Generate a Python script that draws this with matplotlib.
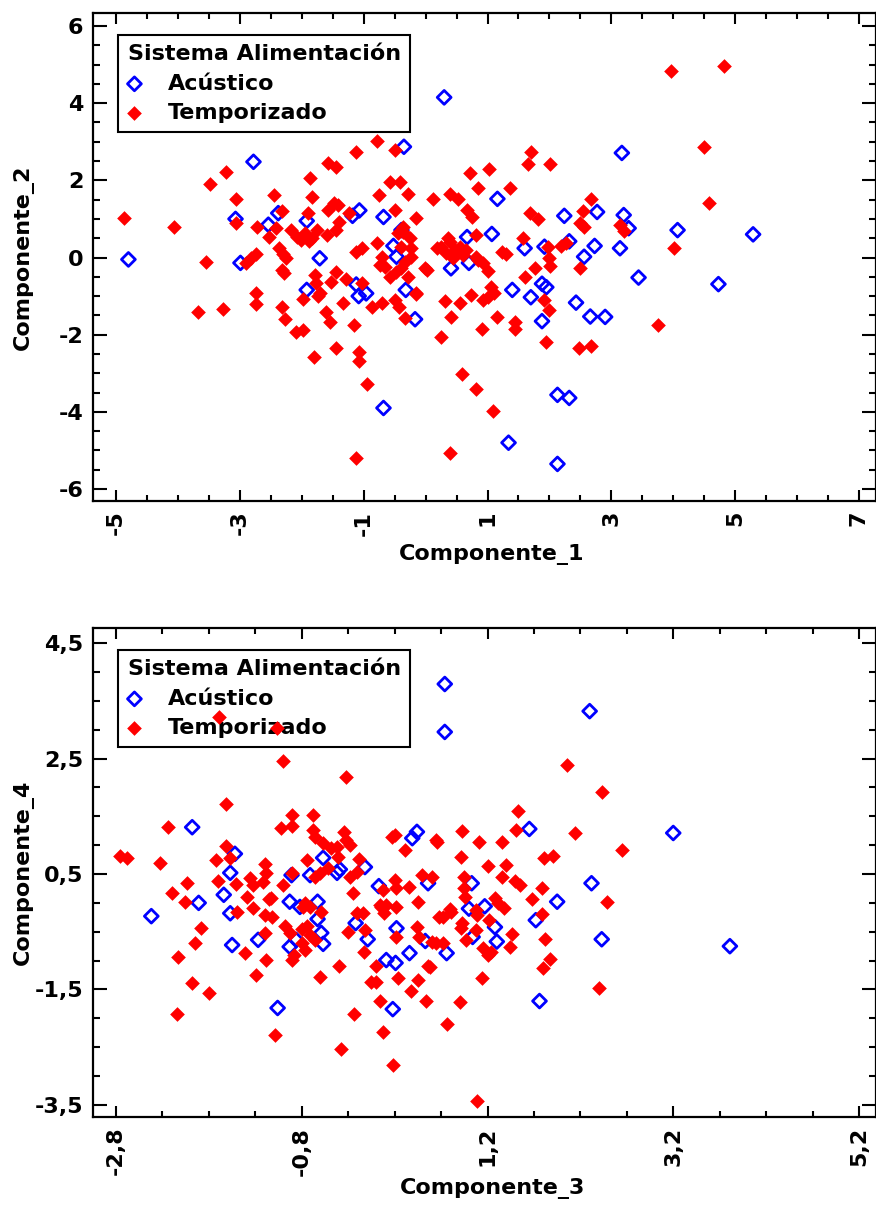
import numpy as np
import matplotlib
matplotlib.use("Agg")
import matplotlib.pyplot as plt
from matplotlib.ticker import FixedLocator, FuncFormatter

# Componente_1 vs Componente_2
acu_12 = [(-4.8, -0.05), (-3.07, 1.0), (-2.78, 2.48), (-2.99, -0.14), (-2.54, 0.85), (-2.38, 1.15),
          (-1.92, 0.95), (-1.71, -0.02), (-1.92, -0.84), (-1.18, 1.08), (-1.07, 1.22), (-0.68, 1.05),
          (-1.12, -0.7), (-1.08, -1.0), (-0.96, -0.93), (-0.52, 0.3), (-0.47, 0.02), (-0.39, 0.71),
          (-0.35, 2.87), (-0.32, -0.84), (-0.17, -1.6), (-0.68, -3.9), (0.3, 4.15), (3.17, 2.71),
          (1.16, 1.52), (2.24, 1.08), (2.77, 1.18), (3.2, 1.1), (3.28, 0.76), (4.07, 0.71), (5.29, 0.6),
          (0.67, 0.53), (1.07, 0.61), (1.6, 0.24), (1.92, 0.28), (2.32, 0.42), (2.73, 0.3), (2.56, 0.02),
          (3.14, 0.24), (0.41, -0.28), (0.7, -0.14), (3.44, -0.52), (4.73, -0.69), (1.88, -0.68),
          (1.95, -0.77), (1.4, -0.84), (1.7, -1.03), (1.88, -1.65), (2.43, -1.17), (2.66, -1.53),
          (2.9, -1.54), (2.13, -3.56), (2.32, -3.64), (1.34, -4.8), (2.13, -5.35)]
tem_12 = [(-4.87, 1.02), (-4.07, 0.8), (-3.54, -0.11), (-3.48, 1.9), (-3.23, 2.21), (-3.07, 1.52),
          (-3.07, 0.9), (-3.68, -1.41), (-3.27, -1.33), (-2.9, -0.14), (-2.82, -0.02), (-2.74, 0.1),
          (-2.72, 0.8), (-2.53, 0.53), (-2.45, 1.62), (-2.32, 1.2), (-2.42, 0.77), (-2.37, 0.24),
          (-2.3, 0.1), (-2.26, -0.02), (-2.32, -0.32), (-2.28, -0.4), (-2.74, -0.92), (-2.74, -1.2),
          (-2.32, -1.28), (-2.27, -1.59), (-2.18, 0.71), (-2.08, 0.53), (-2.02, 0.45), (-1.95, 0.64),
          (-1.89, 0.42), (-1.84, 0.5), (-1.76, 0.72), (-1.87, 2.06), (-1.84, 1.57), (-1.9, 1.15),
          (-2.09, -1.93), (-1.98, -1.87), (-1.98, -1.07), (-1.74, -0.99), (-1.7, -0.92), (-1.61, -1.41),
          (-1.55, -1.67), (-1.81, -2.58), (-1.79, -0.45), (-1.77, -0.67), (-1.6, 0.58),
          (-1.57, 2.46), (-1.45, 2.35), (-1.58, 1.23), (-1.48, 1.41), (-1.42, 1.35), (-1.45, 0.71),
          (-1.4, 0.92), (-1.24, 1.15), (-1.12, 2.74), (-0.79, 3.02), (-0.49, 2.79), (-0.76, 1.62),
          (-0.57, 1.95), (-0.41, 1.95), (-0.49, 1.23), (-0.28, 1.65), (-0.15, 1.02), (0.12, 1.52),
          (-0.44, 0.64), (-0.36, 0.8), (-0.25, 0.5), (-1.13, 0.15), (-1.03, 0.24), (-0.79, 0.37),
          (-0.71, 0.02), (-0.73, -0.19), (-0.65, -0.25), (-0.57, -0.5), (-0.47, -0.38), (-0.39, -0.27),
          (-0.33, -0.12), (-0.23, 0.24), (-0.23, 0.02), (-0.28, -0.5), (-0.15, -0.92), (-0.01, -0.27),
          (0.18, 0.24), (-1.52, -0.63), (-1.44, -0.37), (-1.29, -0.56), (-1.03, -0.67), (-1.44, -2.35),
          (-1.34, -1.18), (-1.16, -1.75), (-1.08, -2.45), (-1.08, -2.68), (-0.95, -3.27), (-1.13, -5.19),
          (-0.87, -1.28), (-0.71, -1.18), (-0.43, -1.28), (-0.33, -1.56), (-0.15, -0.94), (-0.49, -1.1),
          (-0.36, 0.66), (-0.39, 0.28), (0.02, -0.32),
          (0.25, 0.28), (0.33, 0.12), (0.39, 0.4), (0.47, 0.2), (0.55, 0.28), (0.65, 0.2), (0.44, -0.02),
          (0.6, 0.07), (0.36, 0.5), (0.81, 0.02), (0.92, -0.14), (1.0, -0.35), (1.05, -0.76),
          (1.11, -0.92), (0.73, -0.97), (0.92, -1.1), (0.31, -1.12), (0.55, -1.18), (0.41, -1.54),
          (0.25, -2.05), (0.91, -1.85), (0.59, -3.03), (1.16, -1.54), (1.24, 0.15), (1.3, 0.08),
          (1.57, 0.5), (1.77, -0.27), (1.6, -0.5), (1.97, 0.28), (2.18, 0.3), (2.26, 0.38), (1.99, -0.02),
          (2.01, -0.22), (1.44, -1.67), (1.44, -1.85), (1.94, -2.19), (2.48, -2.34), (2.67, -2.29),
          (2.49, -0.27), (1.92, -1.1), (1.99, -1.36), (3.76, -1.75), (0.81, 0.58), (0.81, -3.4),
          (1.09, -3.97), (0.39, -5.06), (3.96, 4.83), (4.82, 4.96), (4.49, 2.87), (4.57, 1.41),
          (4.02, 0.24), (1.71, 2.74), (1.65, 2.43), (2.01, 2.43), (0.71, 2.2), (1.02, 2.3), (0.39, 1.65),
          (0.52, 1.52), (0.84, 1.8), (1.37, 1.8), (2.67, 1.52), (0.67, 1.23), (0.75, 1.05), (1.68, 1.15),
          (1.81, 0.99), (2.54, 1.2), (2.49, 0.9), (2.56, 0.79), (3.14, 0.84), (3.2, 0.69), (0.84, -0.06),
          (1.0, -1.02)]

# Componente_3 vs Componente_4
acu_34 = [(-1.98, 1.31), (-1.52, 0.85), (-1.57, 0.52), (-1.64, 0.14), (-1.91, 0.0), (-0.91, 0.48),
          (-0.71, 0.48), (-0.57, 0.78), (-0.42, 0.52), (-0.39, 0.58), (-0.12, 0.62), (0.03, 0.29),
          (0.39, 1.12), (0.44, 1.23), (0.56, 0.34), (-0.93, 0.02), (-0.63, 0.02), (0.74, 3.79),
          (0.74, 2.96), (2.3, 3.32), (1.65, 1.28), (3.2, 1.21), (2.32, 0.34), (1.95, 0.02), (1.03, 0.34),
          (1.17, -0.06), (-2.42, -0.23), (-1.57, -0.18), (-1.55, -0.73), (-1.27, -0.64), (-0.82, -0.07),
          (-0.93, -0.76), (-0.86, -0.64), (-0.63, -0.28), (-0.59, -0.52), (-0.57, -0.71), (-0.22, -0.35),
          (-0.09, -0.63), (0.11, -0.99), (0.21, -1.04), (0.22, -0.44), (0.36, -0.87), (0.53, -0.66),
          (-1.06, -1.82), (0.18, -1.84), (1.0, -0.1), (1.28, -0.42), (1.3, -0.67), (1.04, -0.59),
          (1.72, -0.3), (2.43, -0.63), (0.76, -0.87), (3.81, -0.75), (1.76, -1.7)]
tem_34 = [(-1.69, 3.22), (-1.07, 3.03), (-1.0, 2.46), (-0.32, 2.18), (-1.62, 1.71), (-2.24, 1.31),
          (-2.76, 0.81), (-2.68, 0.78), (-2.33, 0.69), (-1.72, 0.74), (-1.62, 0.98), (-1.57, 0.78),
          (-1.7, 0.38), (-1.51, 0.33), (-2.04, 0.34), (-2.2, 0.17), (-2.06, 0.02), (-1.39, 0.1),
          (-1.36, 0.43), (-1.33, 0.31), (-1.2, 0.67), (-1.18, 0.52), (-1.22, 0.36), (-1.13, 0.08),
          (-1.0, 0.31), (-1.02, 1.29), (-0.9, 1.33), (-0.9, 1.52), (-0.68, 1.52), (-0.68, 1.26),
          (-0.66, 1.14), (-0.57, 1.04), (-0.49, 0.95), (-0.9, 0.52), (-0.74, 0.74), (-0.66, 0.45),
          (-0.6, 0.52), (-0.52, 0.6), (-0.41, 0.8), (-0.42, 0.97), (-0.34, 1.23), (-0.32, 1.09),
          (-0.28, 1.0), (-0.18, 0.76), (-0.28, 0.45), (-0.21, 0.54), (-0.25, 0.17), (0.17, 1.14),
          (0.2, 1.17), (0.31, 0.92), (0.07, 0.22), (0.2, 0.4), (0.22, 0.26), (0.36, 0.27), (0.45, 0.02),
          (0.5, 0.48), (0.6, 0.45), (0.65, 1.09), (0.04, -0.04), (0.11, -0.04), (-0.77, 0.0),
          (-0.71, -0.08), (2.06, 2.39), (2.43, 1.92), (1.53, 1.59), (1.51, 1.26), (0.93, 1.24),
          (0.66, 1.05), (1.11, 1.05), (1.36, 1.05), (2.14, 1.21), (2.65, 0.92), (0.92, 0.8), (1.2, 0.64),
          (1.4, 0.66), (1.81, 0.78), (1.9, 0.81), (0.95, 0.45), (0.95, 0.26), (0.96, 0.1), (1.36, 0.45),
          (1.5, 0.38), (1.55, 0.31), (1.79, 0.26), (1.68, 0.07), (2.49, 0.02), (0.8, -0.1),
          (-2.13, -0.93), (-1.88, -0.44), (-1.95, -0.7), (-1.98, -1.39), (-1.8, -1.56), (-2.14, -1.92),
          (-1.5, -0.16), (-1.41, -0.87), (-1.33, -0.09), (-1.2, -0.21), (-1.12, -0.24), (-1.2, -0.52),
          (-1.18, -0.99), (-1.29, -1.25), (-1.09, -2.29), (-1.15, 0.06), (-0.98, -0.4), (-0.93, -0.52),
          (-0.91, -0.99), (-0.88, -0.9), (-0.79, -0.07), (-0.8, -0.45), (-0.74, -0.4), (-0.71, -0.55),
          (-0.8, -0.7), (-0.77, -0.82), (-0.66, -0.64), (-0.59, -0.16), (-0.6, -1.28), (-0.4, -1.1),
          (-0.38, -2.53), (-0.3, -0.5), (-0.21, -0.18), (-0.14, -0.18), (-0.12, -0.47), (-0.13, -0.85),
          (-0.24, -1.92), (-0.05, -1.37), (0.0, -1.37), (0.0, -1.1), (0.05, -0.07), (0.09, -0.18),
          (0.04, -1.7), (0.07, -2.24), (0.18, -2.81), (0.21, -0.07), (0.22, -0.59), (0.24, -1.3),
          (0.38, -1.53), (0.45, -1.34), (0.44, -0.42), (0.46, -0.59), (0.56, -1.1), (0.54, -1.7),
          (0.65, -0.7), (0.68, -0.24), (0.72, -0.24), (0.81, -0.16), (0.6, -0.68), (0.72, -0.7),
          (0.58, -1.11), (0.93, -0.35), (0.92, -0.44), (0.97, -0.64), (1.08, -0.12), (1.09, -0.21),
          (1.08, -0.47), (1.15, -0.78), (1.2, -0.9), (1.24, -0.85), (1.22, -0.3), (1.28, 0.08),
          (1.31, 0.0), (1.38, -0.09), (1.46, -0.54), (1.44, -0.76), (1.14, -1.3), (0.9, -1.72),
          (0.76, -2.1), (1.09, -3.43), (1.79, -0.19), (1.82, -0.63), (1.87, -0.97), (1.8, -1.13),
          (2.4, -1.47)]

grupos = ["Acústico", "Temporizado"]
titulo_leyenda = "Sistema Alimentación"

plt.rcParams['font.family'] = ['DejaVu Sans']
plt.rcParams['font.weight'] = 'bold'

fig = plt.figure(figsize=(8.76, 12.05), dpi=100)
ax1 = fig.add_axes([93 / 876, 1 - 501 / 1205, (875.5 - 93) / 876, 488 / 1205])
ax2 = fig.add_axes([93 / 876, 1 - 1117 / 1205, (875.5 - 93) / 876, 489 / 1205])


def coma(v, pos):
    return ("%.1f" % v).replace(".", ",")


def entero(v, pos):
    return "%d" % round(v)


def dibujar(ax, acu, tem, xlab, ylab, xlim, ylim, xmaj, ymaj, fmt, ylab_y):
    a = np.array(acu)
    t = np.array(tem)
    ax.scatter(a[:, 0], a[:, 1], marker='D', s=50, facecolors='none', edgecolors='#0000ff',
               linewidths=2.0, zorder=6, label=grupos[0])
    ax.scatter(t[:, 0], t[:, 1], marker='D', s=56, color='#ff0000', linewidths=0,
               zorder=7, label=grupos[1])
    ax.set_xlim(*xlim)
    ax.set_ylim(*ylim)
    ax.xaxis.set_major_locator(FixedLocator(xmaj))
    ax.yaxis.set_major_locator(FixedLocator(ymaj))
    ax.xaxis.set_minor_locator(FixedLocator(np.arange(xmaj[0] - 1, xmaj[-1] + 1, 0.5)))
    ax.yaxis.set_minor_locator(FixedLocator(np.arange(ymaj[0] - 1, ymaj[-1] + 1, 0.5)))
    ax.xaxis.set_major_formatter(FuncFormatter(fmt))
    ax.yaxis.set_major_formatter(FuncFormatter(fmt))
    ax.tick_params(which='both', direction='in', top=True, right=True, width=1.5,
                   labelsize=16, pad=7)
    ax.tick_params(axis='x', which='major', length=8)
    ax.tick_params(axis='x', which='minor', length=4)
    ax.tick_params(axis='y', which='major', length=10)
    ax.tick_params(axis='y', which='minor', length=5)
    for lab in ax.get_xticklabels():
        lab.set_rotation(90)
    for sp in ax.spines.values():
        sp.set_linewidth(1.6)
    ax.set_xlabel(xlab, fontsize=16, fontweight='bold')
    ax.set_ylabel(ylab, fontsize=16, fontweight='bold')
    ax.xaxis.set_label_coords(0.51, ylab_y)
    ax.yaxis.set_label_coords(-0.075, 0.5)
    leg = ax.legend(loc='upper left', bbox_to_anchor=(0.0325, 1 - 22 / 488), borderaxespad=0,
                    title=titulo_leyenda, title_fontproperties={'weight': 'bold', 'size': 16},
                    prop={'weight': 'bold', 'size': 16}, alignment='left', fancybox=False,
                    framealpha=1, edgecolor='black', handlelength=0.6, handletextpad=1.2,
                    labelspacing=0.42, borderpad=0.42, scatterpoints=1)
    leg.get_frame().set_linewidth(1.5)
    leg.set_zorder(5)


dibujar(ax1, acu_12, tem_12, "Componente_1", "Componente_2", (-5.372, 7.267), (-6.311, 6.337),
        np.arange(-5, 7.1, 2), np.arange(-6, 6.1, 2), entero, -0.088)
dibujar(ax2, acu_34, tem_34, "Componente_3", "Componente_4", (-3.048, 5.378), (-3.708, 4.76),
        np.arange(-2.8, 5.3, 2), np.arange(-3.5, 4.6, 2), coma, -0.125)

fig.savefig("out.png", dpi=100)
